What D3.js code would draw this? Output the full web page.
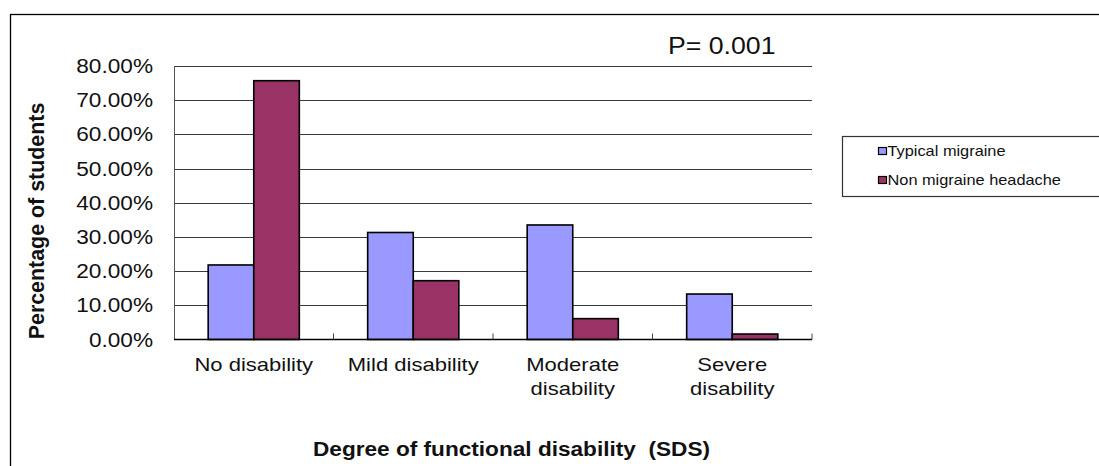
<!DOCTYPE html>
<html>
<head>
<meta charset="utf-8">
<script src="https://cdn.jsdelivr.net/npm/d3@7"></script>
<style>
  html, body { margin: 0; padding: 0; background: #fff; }
  svg { display: block; font-family: "Liberation Sans", Arial, sans-serif; }
</style>
</head>
<body>
<svg id="chart" width="1099" height="466"></svg>
<script>
// ---- data ----
const categories = ["No disability", "Mild disability", "Moderate disability", "Severe disability"];
const categoryLines = [["No disability"], ["Mild disability"], ["Moderate", "disability"], ["Severe", "disability"]];
const seriesNames = ["Typical migraine", "Non migraine headache"];
const typicalMigraine = [0.218, 0.313, 0.335, 0.133];
const nonMigraineHeadache = [0.757, 0.172, 0.061, 0.016];
const yTicks = [0, 0.1, 0.2, 0.3, 0.4, 0.5, 0.6, 0.7, 0.8];
const colors = ["#9999FF", "#993366"];
const pValueText = "P= 0.001";
const xTitle = "Degree of functional disability  (SDS)";
const yTitle = "Percentage of students";

const SX = 1.16; // horizontal stretch of the reference rendering
const svg = d3.select("#chart");

// outer frame (right and bottom edges fall outside the picture)
svg.append("rect").attr("x", 10.5).attr("y", 14.5).attr("width", 1200).attr("height", 600)
  .attr("fill", "none").attr("stroke", "#000").attr("stroke-width", 1.3);

const plot = { left: 174, right: 812, top: 66, bottom: 339.5 };
const y = d3.scaleLinear().domain([0, 0.8]).range([plot.bottom, plot.top]);
const x0 = d3.scaleBand().domain(categories).range([plot.left, plot.right]);
const bw = x0.bandwidth();
const barW = bw / 3.5;
const x1 = d3.scaleBand().domain(seriesNames).range([barW * 0.75, bw - barW * 0.75]);

function stretchedText(parent, x, yy, txt, opts) {
  const g = parent.append("g").attr("transform", `translate(${x},${yy}) scale(${SX},1)`);
  const t = g.append("text").attr("x", 0).attr("y", 0).text(txt)
    .attr("font-size", opts.size).attr("fill", opts.fill || "#111")
    .attr("text-anchor", opts.anchor || "start")
    .attr("font-weight", opts.weight || "normal")
    .style("white-space", "pre");
  return t;
}

// gridlines
svg.append("g").selectAll("line").data(yTicks.filter(d => d > 0)).join("line")
  .attr("x1", plot.left).attr("x2", plot.right)
  .attr("y1", d => Math.round(y(d)) + 0.5).attr("y2", d => Math.round(y(d)) + 0.5)
  .attr("stroke", "#3a3a3a").attr("stroke-width", 1);

// left axis line
svg.append("line").attr("x1", plot.left + 0.5).attr("x2", plot.left + 0.5)
  .attr("y1", plot.top).attr("y2", plot.bottom).attr("stroke", "#555").attr("stroke-width", 1);

// y tick labels
yTicks.forEach(v => {
  stretchedText(svg, 153, y(v) + 7, d3.format(".2%")(v), { size: 19.5, anchor: "end" });
});

// bars
const data = categories.map((c, i) => ({ cat: c, vals: [typicalMigraine[i], nonMigraineHeadache[i]] }));
const groups = svg.append("g").selectAll("g").data(data).join("g")
  .attr("transform", d => `translate(${x0(d.cat)},0)`);
groups.selectAll("rect").data(d => d.vals.map((v, k) => ({ v, k }))).join("rect")
  .attr("x", d => x1(seriesNames[d.k]))
  .attr("width", x1.bandwidth())
  .attr("y", d => y(d.v))
  .attr("height", d => plot.bottom - y(d.v))
  .attr("fill", d => colors[d.k])
  .attr("stroke", "#000").attr("stroke-width", 1.6);

// bottom axis
svg.append("line").attr("x1", plot.left).attr("x2", plot.right)
  .attr("y1", plot.bottom).attr("y2", plot.bottom).attr("stroke", "#000").attr("stroke-width", 1.3);
svg.append("g").selectAll("line").data(categories.slice(1).concat(["__end"])).join("line")
  .attr("x1", d => d === "__end" ? plot.right : x0(d))
  .attr("x2", d => d === "__end" ? plot.right : x0(d))
  .attr("y1", plot.bottom).attr("y2", plot.bottom - 6)
  .attr("stroke", "#444").attr("stroke-width", 1);

// category labels
categories.forEach((c, i) => {
  const cx = x0(c) + bw / 2;
  categoryLines[i].forEach((ln, j) => {
    stretchedText(svg, cx, 370.5 + j * 24, ln, { size: 19, anchor: "middle" });
  });
});

// axis titles
stretchedText(svg, 511.5, 456, xTitle, { size: 19.5, anchor: "middle", weight: "bold" });
svg.append("g").attr("transform", `translate(44,221) rotate(-90)`)
  .append("text").text(yTitle).attr("text-anchor", "middle")
  .attr("font-size", 21.4).attr("font-weight", "bold").attr("fill", "#111");

// p value
stretchedText(svg, 668, 53.5, pValueText, { size: 23, anchor: "start" });

// legend
svg.append("rect").attr("x", 842.5).attr("y", 136.5).attr("width", 300).attr("height", 60)
  .attr("fill", "#fff").attr("stroke", "#333").attr("stroke-width", 1.2);
seriesNames.forEach((s, k) => {
  const yy = 156 + k * 29;
  svg.append("rect").attr("x", 878.5).attr("y", yy - 8.5).attr("width", 8).attr("height", 7)
    .attr("fill", colors[k]).attr("stroke", "#000").attr("stroke-width", 1.2);
  stretchedText(svg, 887.5, yy, s, { size: 14.1, anchor: "start" });
});
</script>
</body>
</html>
